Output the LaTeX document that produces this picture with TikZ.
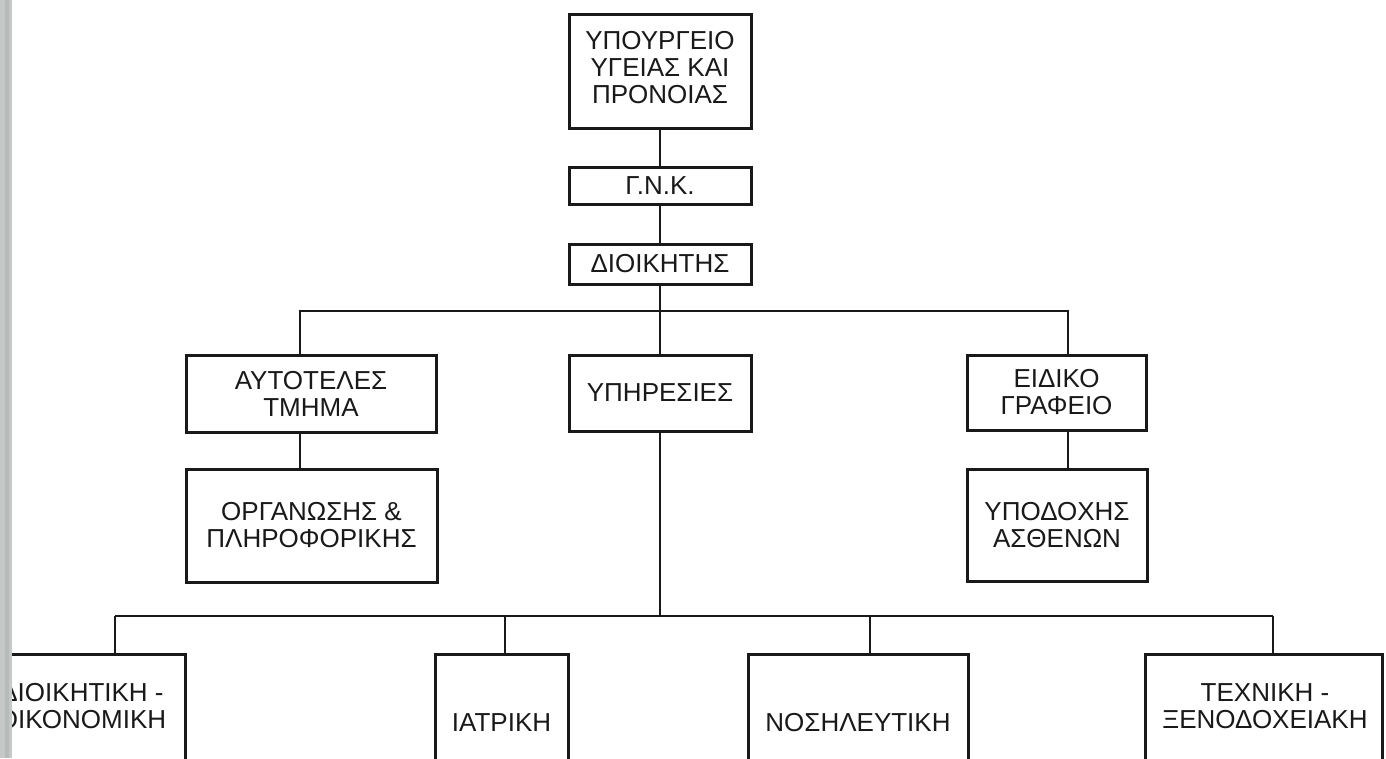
\documentclass[tikz,border=0pt]{standalone}
\usepackage{fontspec}
\setmainfont{Liberation Sans}
\definecolor{ink}{RGB}{25,25,25}
\definecolor{scanbar}{RGB}{196,201,200}
\begin{document}
\begin{tikzpicture}[x=1bp,y=-1bp,
  box/.style={draw=ink, line width=3bp, inner sep=0pt, align=center, text=ink,
    font=\fontsize{26bp}{27bp}\selectfont},
  lbl/.style={inner sep=0pt, align=center, text=ink,
    font=\fontsize{26bp}{27bp}\selectfont},
  conn/.style={draw=ink, line width=2.5bp}]
\useasboundingbox (0,0) rectangle (1386,758);
\clip (0,0) rectangle (1386,758);
\fill[white] (0,0) rectangle (1386,758);

% top column
\node[box, minimum width=182bp, minimum height=113bp] (min) at (660,71.5)
  {\raisebox{3bp}{\begin{tabular}{@{}c@{}}ΥΠΟΥΡΓΕΙΟ\\[0bp]ΥΓΕΙΑΣ ΚΑΙ\\ΠΡΟΝΟΙΑΣ\end{tabular}}};
\node[box, minimum width=182bp, minimum height=37bp] (gnk) at (660,185.5) {Γ.Ν.Κ.};
\node[box, minimum width=182bp, minimum height=40bp] (dioik) at (660,264) {ΔΙΟΙΚΗΤΗΣ};

% second level
\node[box, minimum width=250bp, minimum height=77bp] (aut) at (311,393.5) {ΑΥΤΟΤΕΛΕΣ\\ΤΜΗΜΑ};
\node[box, minimum width=182bp, minimum height=76bp] (ypir) at (660,393) {ΥΠΗΡΕΣΙΕΣ};
\node[box, minimum width=179bp, minimum height=75bp] (eid) at (1056.5,392.5) {ΕΙΔΙΚΟ\\ΓΡΑΦΕΙΟ};
\node[box, minimum width=251bp, minimum height=113bp] (org) at (311.5,525.5) {ΟΡΓΑΝΩΣΗΣ \&\\ΠΛΗΡΟΦΟΡΙΚΗΣ};
\node[box, minimum width=180bp, minimum height=112bp] (ypod) at (1057,525) {ΥΠΟΔΟΧΗΣ\\ΑΣΘΕΝΩΝ};

% bottom boxes (cut by the page edge)
\node[box, minimum width=207bp, minimum height=150bp, anchor=north] (dio) at (81.5,653) {};
\node[lbl] (diot) at (82,706) {ΔΙΟΙΚΗΤΙΚΗ -\\ΟΙΚΟΝΟΜΙΚΗ};
\node[box, minimum width=133bp, minimum height=150bp, anchor=north] (iat) at (501.5,653) {};
\node[lbl] (iatt) at (501.5,723) {ΙΑΤΡΙΚΗ};
\node[box, minimum width=220bp, minimum height=150bp, anchor=north] (nos) at (858,653) {};
\node[lbl] (nost) at (858,723) {ΝΟΣΗΛΕΥΤΙΚΗ};
\node[box, minimum width=237bp, minimum height=150bp, anchor=north] (tex) at (1263.5,653) {};
\node[lbl] (text) at (1265,706) {ΤΕΧΝΙΚΗ -\\ΞΕΝΟΔΟΧΕΙΑΚΗ};

% connectors
\coordinate (ax) at (300,311);
\coordinate (ex) at (1068,311);
\coordinate (bc) at (660,616);
\coordinate (b1) at (115,616);
\coordinate (b2) at (505,616);
\coordinate (b3) at (870,616);
\coordinate (b4) at (1273,616);

\draw[conn] (min.south) -- (gnk.north);
\draw[conn] (gnk.south) -- (dioik.north);
\draw[conn] (dioik.south) -- (ypir.north);
\draw[conn] (aut.north -| ax) -- (ax) -- (ex) -- (eid.north -| ex);
\draw[conn] (aut.south -| ax) -- (org.north -| ax);
\draw[conn] (eid.south -| ex) -- (ypod.north -| ex);
\draw[conn] (ypir.south) -- (bc);
\draw[conn] (b1) -- (b4);
\draw[conn] (b1) -- (dio.north -| b1);
\draw[conn] (b2) -- (iat.north -| b2);
\draw[conn] (b3) -- (nos.north -| b3);
\draw[conn] (b4) -- (tex.north -| b4);

% scanner edge on the left
\fill[scanbar] (0,0) rectangle (12,758);
\fill[scanbar!70!black!60] (5,0) rectangle (9,758);
\end{tikzpicture}
\end{document}
